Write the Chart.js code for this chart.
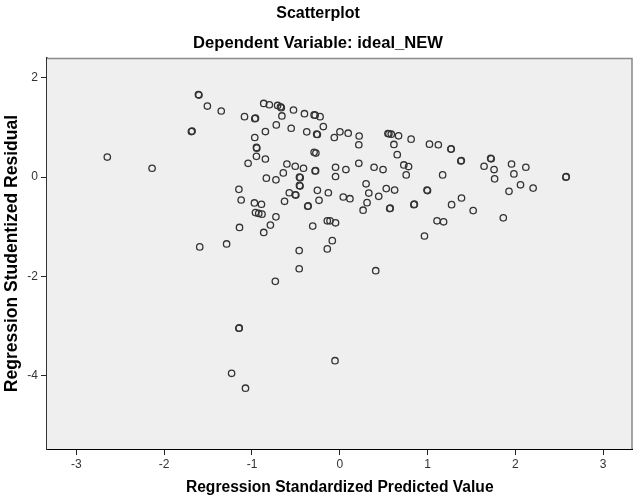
<!DOCTYPE html>
<html>
<head>
<meta charset="utf-8">
<script src="https://cdn.jsdelivr.net/npm/chart.js@4"></script>
<style>
  html, body { margin: 0; padding: 0; background: #fff; }
  #wrap { width: 637px; height: 500px; }
</style>
</head>
<body>
<div id="wrap"><canvas id="chartResid" width="637" height="500"></canvas></div>
<script>
// standardized predicted value (x) and studentized residual (y), one pair per case
const predicted = [
  -2.648, -2.138, -1.690, -1.682, -1.610, -1.604, -1.508, -1.350, -1.085, -0.968,
  -0.960, -0.866, -0.802, -0.708, -0.666, -0.675, -0.659, -0.527, -0.402, -0.292,
  -0.280, -0.224, -0.187, -0.723, -0.553, -0.847, -0.968, -0.376, -0.263, -0.255,
  -0.062, 0.002, 0.096, 0.221, 0.217, -0.949, -0.945, -0.949, -0.847, -1.044,
  -0.292, -0.272, -0.602, -0.507, -0.413, -0.643, -0.281, -0.275, -0.048, 0.070,
  -0.048, 0.217, -0.836, -0.727, -0.459, -0.450, -0.459, -0.452, -1.149, -0.575,
  -0.507, -0.500, -0.255, -0.130, 0.549, 0.560, 0.587, 0.670, 0.617, 0.813,
  0.655, 1.022, 1.123, 1.266, 1.270, 1.379, 1.385, 1.719, 1.725, 1.644,
  1.758, 1.764, 0.391, 0.493, 0.730, 0.784, 0.757, 1.172, 0.300, 0.530,
  0.625, 0.994, 1.000, 0.331, 1.957, 1.984, 2.120, 2.059, 1.928, 2.203,
  2.576, 2.580, -1.123, -0.972, -0.960, -0.923, -0.886, -0.892, -0.629, -0.727,
  -0.790, -0.866, -1.142, -1.289, -1.595, -0.365, -0.360, -0.236, 0.040, 0.116,
  0.311, 0.266, 0.444, 0.569, 0.575, -0.308, -0.142, -0.111, -0.048, -0.085,
  -0.142, -0.462, -0.462, -0.734, 0.410, 0.844, 0.850, 1.274, 1.387, 1.520,
  1.108, 1.183, 0.965, 1.863, -1.149, -1.145, -0.054, -1.232, -1.074
];
const residual = [
  0.406, 0.18, 0.92, 0.93, 1.666, 1.656, 1.434, 1.334, 1.22, 1.18,
  1.19, 1.486, 1.46, 1.446, 1.40, 1.42, 1.234, 1.354, 1.28, 1.254,
  1.25, 1.22, 1.02, 1.054, 0.986, 0.92, 0.80, 0.914, 0.866, 0.86,
  0.80, 0.914, 0.886, 0.83, 0.654, 0.60, 0.585, 0.42, 0.366, 0.28,
  0.50, 0.486, 0.266, 0.22, 0.18, 0.086, 0.126, 0.13, 0.20, 0.154,
  0.014, 0.28, -0.02, -0.054, 0.0, -0.01, -0.166, -0.18, -0.246, -0.314,
  -0.354, -0.36, -0.266, -0.314, 0.88, 0.875, 0.866, 0.834, 0.66, 0.766,
  0.454, 0.666, 0.654, 0.566, 0.57, 0.326, 0.335, 0.38, 0.37, 0.22,
  0.154, -0.034, 0.20, 0.154, 0.246, 0.214, 0.046, 0.046, -0.134, -0.23,
  -0.26, -0.26, -0.27, -0.32, 0.266, 0.066, 0.20, -0.154, -0.286, -0.22,
  0.0, 0.01, -0.46, -0.52, -0.714, -0.73, -0.746, -0.546, -0.486, -0.80,
  -0.966, -1.114, -1.014, -1.346, -1.406, -0.586, -0.58, -0.466, -0.40, -0.434,
  -0.514, -0.666, -0.386, -0.634, -0.625, -0.986, -0.88, -0.88, -0.92, -1.28,
  -1.446, -1.48, -1.846, -2.10, -1.886, -0.554, -0.545, -0.554, -0.42, -0.674,
  -0.88, -0.90, -1.186, -0.82, -3.046, -3.04, -3.70, -3.954, -4.254
];

const xTicks = [-3, -2, -1, 0, 1, 2, 3];
const yTicks = [-4, -2, 0, 2];

const FONT = "'Liberation Sans', Arial, sans-serif";

const points = predicted.map((x, i) => ({ x: x, y: residual[i] }));

// grey plot panel with a thin frame, drawn under the points
const panel = {
  id: "panel",
  beforeDatasetsDraw(chart) {
    const { ctx, chartArea: a } = chart;
    ctx.save();
    ctx.fillStyle = "#efefef";
    ctx.fillRect(a.left, a.top, a.right - a.left, a.bottom - a.top);
    ctx.strokeStyle = "#8a8a8a";
    ctx.lineWidth = 1.5;
    ctx.beginPath();
    ctx.moveTo(a.left, a.top + 0.5);
    ctx.lineTo(a.right - 0.5, a.top + 0.5);
    ctx.lineTo(a.right - 0.5, a.bottom);
    ctx.stroke();
    ctx.restore();
  }
};

new Chart(document.getElementById("chartResid").getContext("2d"), {
  type: "scatter",
  data: {
    datasets: [{
      data: points,
      pointRadius: 3.2,
      pointHoverRadius: 3.2,
      pointBorderWidth: 1.3,
      pointBorderColor: "#333",
      pointBackgroundColor: "rgba(0,0,0,0)"
    }]
  },
  options: {
    responsive: false,
    animation: false,
    layout: { padding: { right: 1 } },
    plugins: {
      legend: { display: false },
      tooltip: { enabled: false },
      title: {
        display: true,
        text: "Scatterplot",
        color: "#000",
        font: { family: FONT, size: 16, weight: "bold" },
        padding: { top: 4, bottom: 10 }
      },
      subtitle: {
        display: true,
        text: "Dependent Variable: ideal_NEW",
        color: "#000",
        font: { family: FONT, size: 16.6, weight: "bold" },
        padding: { top: 0, bottom: 5 }
      }
    },
    scales: {
      x: {
        type: "linear",
        min: -3.335,
        max: 3.335,
        afterBuildTicks: s => { s.ticks = xTicks.map(v => ({ value: v })); },
        afterFit: s => { s.height = 51; },
        grid: { drawOnChartArea: false, drawTicks: true, tickLength: 6, color: "#222", lineWidth: 1 },
        border: { display: true, color: "#000", width: 2 },
        ticks: { color: "#333", font: { family: FONT, size: 12 }, padding: 2, maxRotation: 0 },
        title: {
          display: true,
          text: "Regression Standardized Predicted Value",
          color: "#000",
          font: { family: FONT, size: 15.6, weight: "bold" },
          padding: { top: 4, bottom: 3 }
        }
      },
      y: {
        type: "linear",
        min: -5.48,
        max: 2.4,
        afterBuildTicks: s => { s.ticks = yTicks.map(v => ({ value: v })); },
        afterFit: s => { s.width = 47; },
        grid: { drawOnChartArea: false, drawTicks: true, tickLength: 6, color: "#222", lineWidth: 1 },
        border: { display: true, color: "#333", width: 1.5 },
        ticks: { color: "#333", font: { family: FONT, size: 12 }, padding: 3 },
        title: {
          display: true,
          text: "Regression Studentized Residual",
          color: "#000",
          font: { family: FONT, size: 17.5, weight: "bold" },
          padding: { top: 2, bottom: 2 }
        }
      }
    }
  },
  plugins: [panel]
});
</script>
</body>
</html>
